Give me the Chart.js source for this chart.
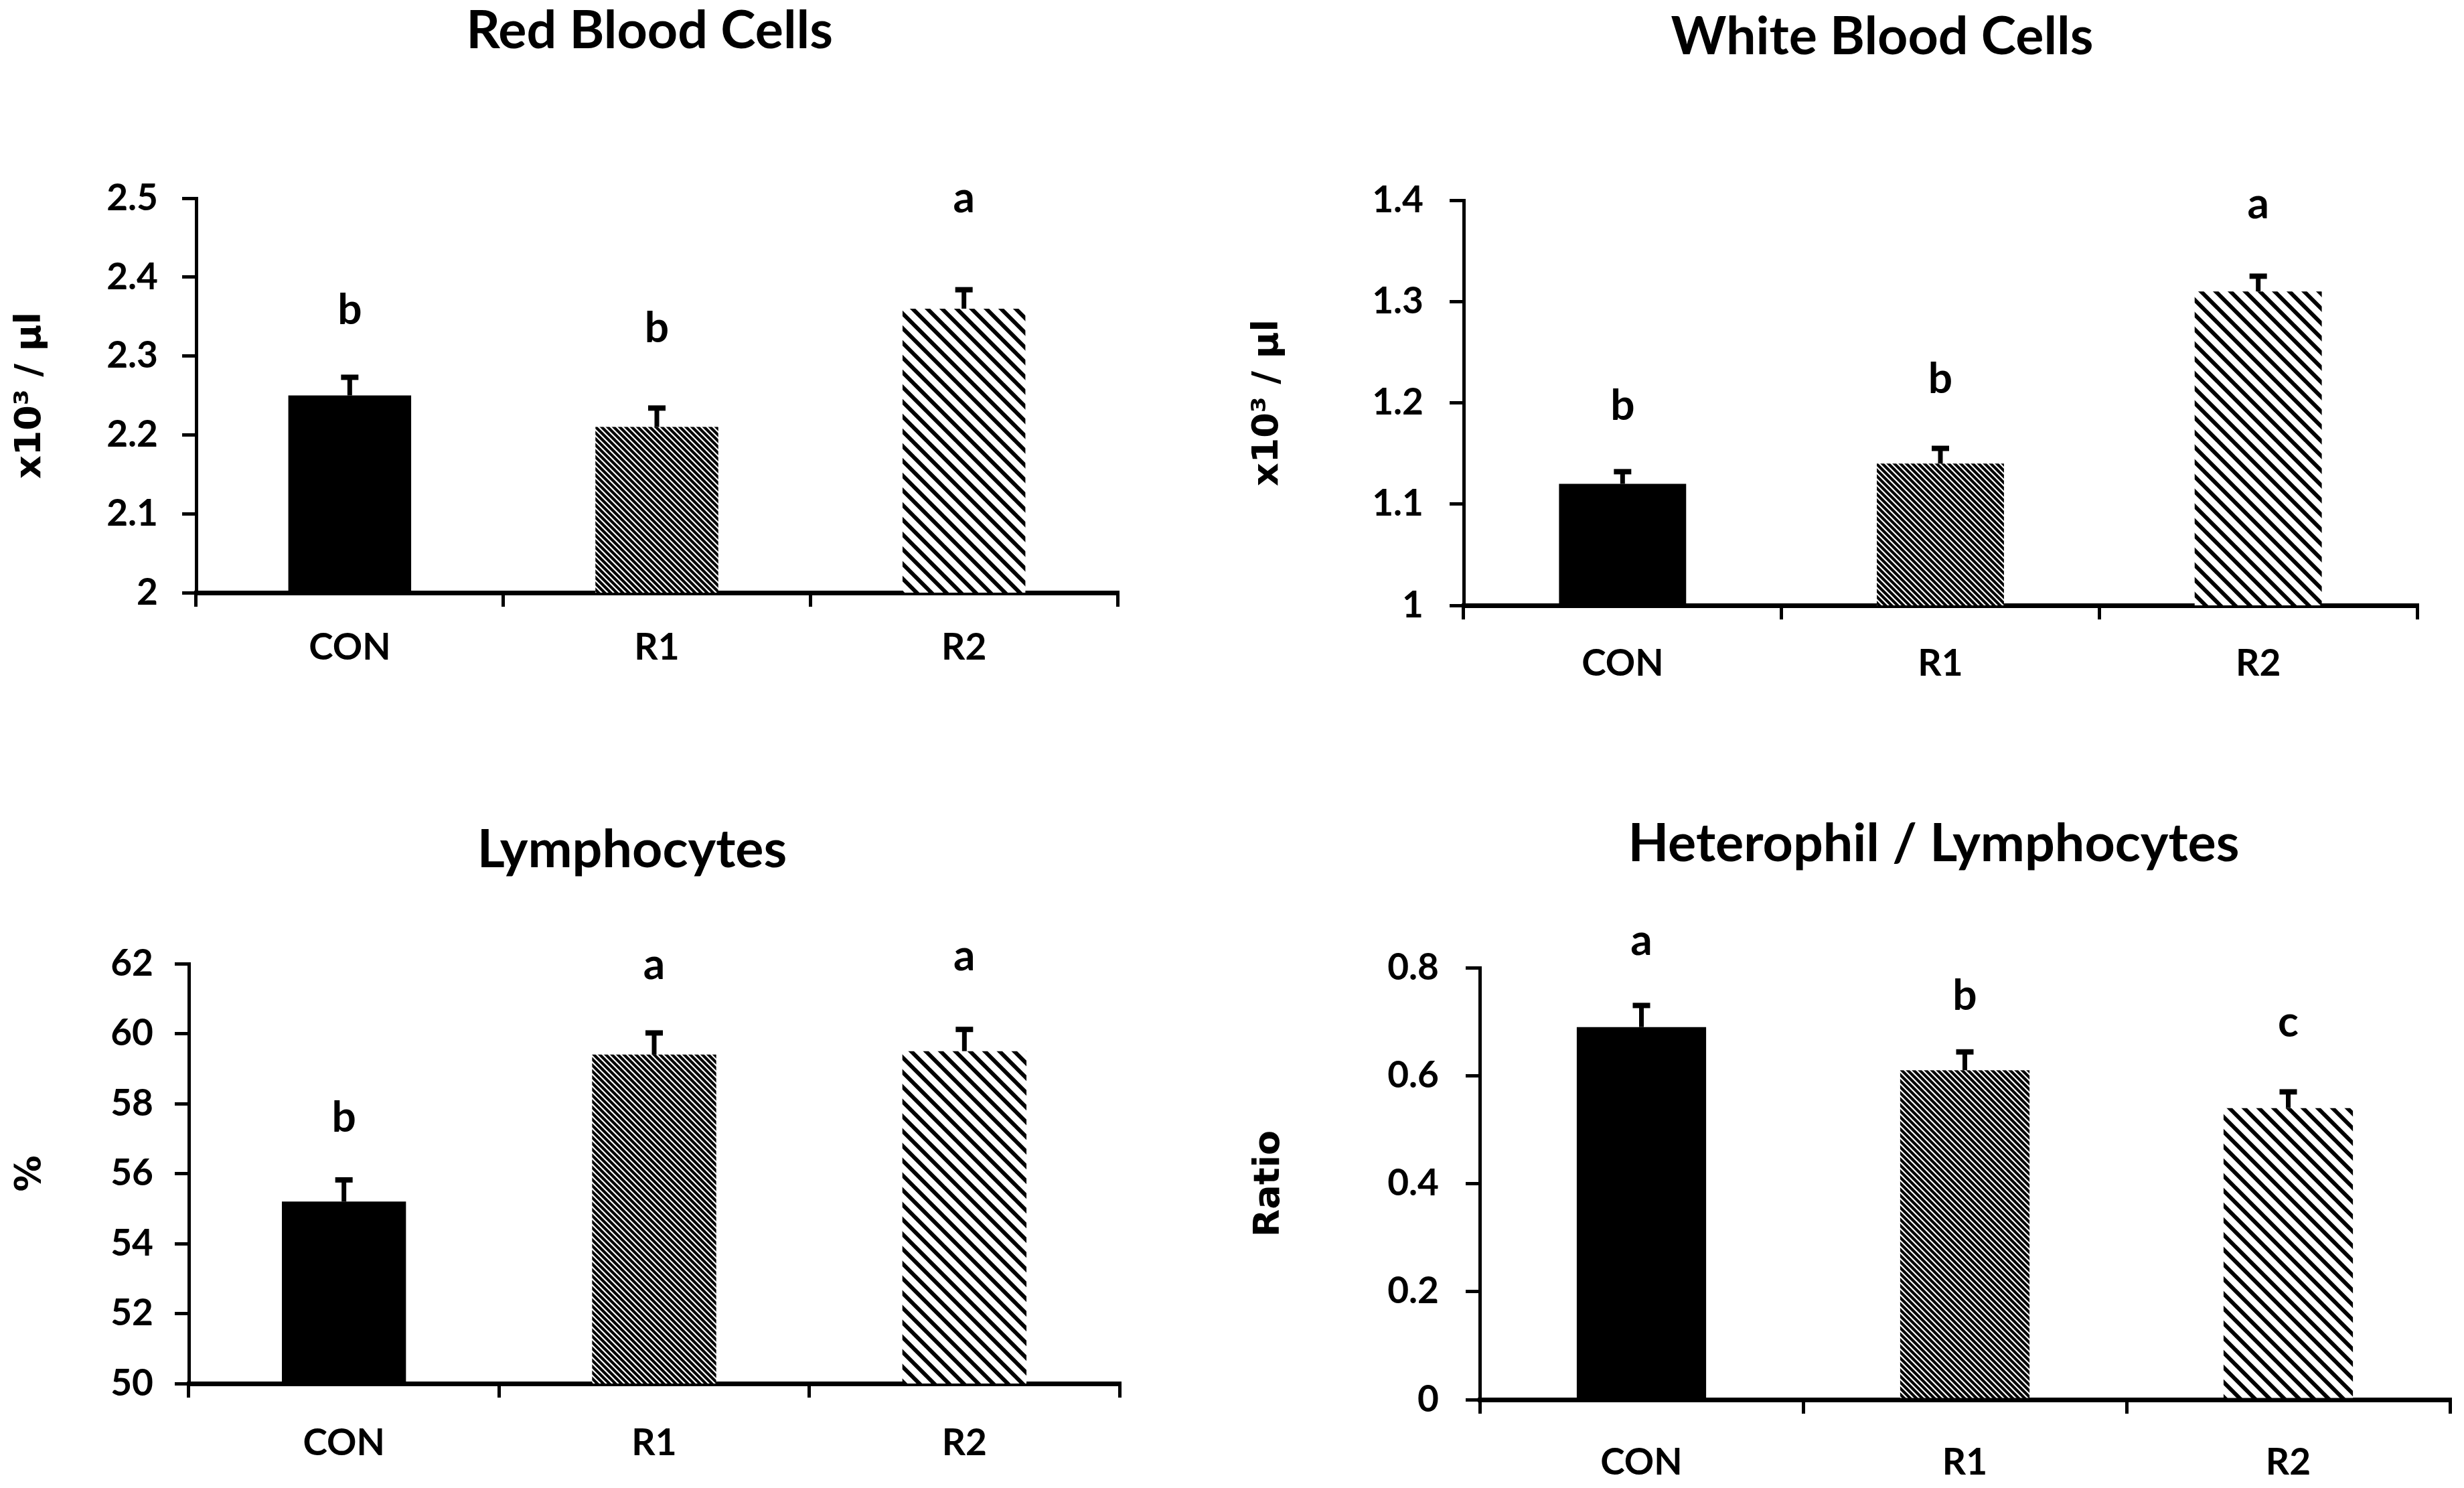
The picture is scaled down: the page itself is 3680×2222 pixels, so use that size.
<!DOCTYPE html>
<html lang="en">
<head>
  <meta charset="UTF-8">
  <title>Blood parameters</title>
  <style>
    html, body { margin: 0; padding: 0; background: #fff; overflow: hidden; }
    .panel { position: absolute; width: 1840px; height: 1111px; }
  </style>
</head>
<body>
  <div class="panel" style="left:0;top:0"><canvas id="rbc"></canvas></div>
  <div class="panel" style="left:1840px;top:0"><canvas id="wbc"></canvas></div>
  <div class="panel" style="left:0;top:1111px"><canvas id="lym"></canvas></div>
  <div class="panel" style="left:1840px;top:1111px"><canvas id="hl"></canvas></div>

  <script src="https://cdn.jsdelivr.net/npm/chart.js"></script>
  <script>
    const groups = ['CON', 'R1', 'R2'];

    // red blood cells (x10^3 / µl)
    const rbcMeans = [2.25, 2.21, 2.36];
    const rbcErr = [0.023, 0.024, 0.024];
    const rbcLetters = ['b', 'b', 'a'];
    const rbcLetterY = [2.358, 2.335, 2.5];
    const rbcAxis = [2, 2.5, 0.1];

    // white blood cells (x10^3 / µl)
    const wbcMeans = [1.12, 1.14, 1.31];
    const wbcErr = [0.012, 0.015, 0.015];
    const wbcLetters = ['b', 'b', 'a'];
    const wbcLetterY = [1.197, 1.223, 1.396];
    const wbcAxis = [1, 1.4, 0.1];

    // lymphocytes (%)
    const lymMeans = [55.2, 59.4, 59.5];
    const lymErr = [0.62, 0.62, 0.62];
    const lymLetters = ['b', 'a', 'a'];
    const lymLetterY = [57.6, 61.95, 62.2];
    const lymAxis = [50, 62, 2];

    // heterophil / lymphocyte ratio
    const hlMeans = [0.69, 0.61, 0.54];
    const hlErr = [0.04, 0.034, 0.03];
    const hlLetters = ['a', 'b', 'c'];
    const hlLetterY = [0.849, 0.748, 0.698];
    const hlAxis = [0, 0.8, 0.2];

    function hatch(size, width) {
      const c = document.createElement('canvas');
      c.width = size; c.height = size;
      const g = c.getContext('2d');
      g.fillStyle = '#fff';
      g.fillRect(0, 0, size, size);
      g.strokeStyle = '#000';
      g.lineWidth = width;
      g.beginPath();
      for (const k of [-size, 0, size]) {
        g.moveTo(k - 2, -2);
        g.lineTo(k + size + 2, size + 2);
      }
      g.stroke();
      return g.createPattern(c, 'repeat');
    }

    const fills = ['#000', hatch(9, 4.2), hatch(22, 6)];

    function panel(id, d) {
      const extras = {
        id: 'extras',
        afterDatasetsDraw(chart) {
          const ctx = chart.ctx;
          const y = chart.scales.y;
          const bars = chart.getDatasetMeta(0).data;
          ctx.save();
          ctx.strokeStyle = '#000';
          ctx.fillStyle = '#000';
          bars.forEach((bar, i) => {
            const top = y.getPixelForValue(d.means[i] + d.err[i]);
            ctx.lineWidth = 7;
            ctx.beginPath(); ctx.moveTo(bar.x, bar.y); ctx.lineTo(bar.x, top); ctx.stroke();
            ctx.lineWidth = 8;
            ctx.beginPath(); ctx.moveTo(bar.x - 13, top); ctx.lineTo(bar.x + 13, top); ctx.stroke();
          });
          ctx.textAlign = 'center';
          ctx.textBaseline = 'middle';
          ctx.font = 'bold 64px Lato';
          bars.forEach((bar, i) => ctx.fillText(d.letters[i], bar.x, y.getPixelForValue(d.letterY[i])));
          ctx.font = 'bold 79px Lato';
          ctx.fillText(d.title, d.titleX, d.titleY);
          ctx.restore();
        }
      };

      const tickFont = { family: 'Lato', weight: 'bold', size: 55 };

      return new Chart(document.getElementById(id), {
        type: 'bar',
        data: {
          labels: groups,
          datasets: [{
            data: d.means,
            backgroundColor: fills,
            borderWidth: 0,
            barPercentage: 0.4,
            categoryPercentage: 1
          }]
        },
        options: {
          responsive: true,
          maintainAspectRatio: false,
          devicePixelRatio: 1,
          animation: false,
          layout: { padding: { left: 0, right: d.padRight, top: d.padTop, bottom: d.padBottom } },
          plugins: { legend: { display: false }, tooltip: { enabled: false } },
          scales: {
            x: {
              grid: { drawOnChartArea: false, tickLength: 21, lineWidth: 5, color: '#000', offset: true },
              border: { color: '#000', width: 7 },
              ticks: { color: '#000', font: tickFont, padding: d.xTickPad },
              afterFit: s => { s.height = 130; }
            },
            y: {
              min: d.axis[0],
              max: d.axis[1],
              ticks: {
                stepSize: d.axis[2],
                color: '#000',
                font: tickFont,
                padding: d.yTickPad,
                callback: v => String(+v.toFixed(2))
              },
              grid: { drawOnChartArea: false, tickLength: 21, lineWidth: 5, color: '#000' },
              border: { color: '#000', width: 5 },
              title: {
                display: true,
                text: d.yTitle,
                color: '#000',
                font: { family: 'DejaVu Sans', weight: 'bold', size: 54 },
                padding: { top: d.yTitlePad, bottom: 0 }
              },
              afterFit: s => { s.width = d.axisW; }
            }
          }
        },
        plugins: [extras]
      });
    }

    panel('rbc', {
      title: 'Red Blood Cells', yTitle: 'x10³ / µl',
      means: rbcMeans, err: rbcErr, letters: rbcLetters, letterY: rbcLetterY, axis: rbcAxis,
      axisW: 293, padRight: 171, padTop: 296, padBottom: 96,
      yTitlePad: 14, yTickPad: 36, xTickPad: 28, titleX: 970, titleY: 47
    });

    panel('wbc', {
      title: 'White Blood Cells', yTitle: 'x10³ / µl',
      means: wbcMeans, err: wbcErr, letters: wbcLetters, letterY: wbcLetterY, axis: wbcAxis,
      axisW: 346, padRight: 70, padTop: 299, padBottom: 77,
      yTitlePad: 22, yTickPad: 39, xTickPad: 33, titleX: 971, titleY: 56
    });

    panel('lym', {
      title: 'Lymphocytes', yTitle: '%',
      means: lymMeans, err: lymErr, letters: lymLetters, letterY: lymLetterY, axis: lymAxis,
      axisW: 282, padRight: 168, padTop: 328, padBottom: 26,
      yTitlePad: 14, yTickPad: 32, xTickPad: 35, titleX: 944, titleY: 159
    });

    panel('hl', {
      title: 'Heterophil / Lymphocytes', yTitle: 'Ratio',
      means: hlMeans, err: hlErr, letters: hlLetters, letterY: hlLetterY, axis: hlAxis,
      axisW: 370, padRight: 21, padTop: 334, padBottom: 2,
      yTitlePad: 24, yTickPad: 40, xTickPad: 40, titleX: 1048, titleY: 150
    });
  </script>
</body>
</html>
